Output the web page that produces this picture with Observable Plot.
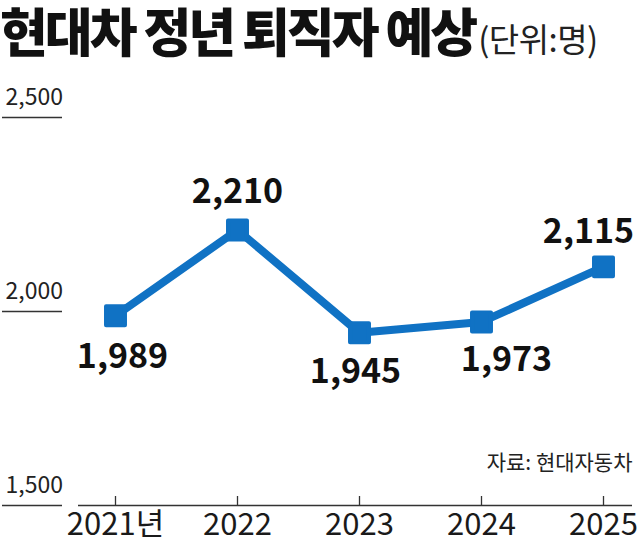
<!DOCTYPE html>
<html>
<head>
<meta charset="utf-8">
<script src="https://cdn.jsdelivr.net/npm/d3@7"></script>
<script src="https://cdn.jsdelivr.net/npm/@observablehq/plot@0.6"></script>
<style>
  html, body { margin: 0; padding: 0; background: #fff; }
  body { width: 640px; height: 547px; overflow: hidden; font-family: "Noto Sans CJK KR", "Noto Sans", sans-serif; }
  #title { height: 60px; line-height: 60px; white-space: nowrap; color: #111; padding-left: 0; }
  #title .main { font-size: 52px; font-weight: 900; letter-spacing: -3px; }
  #title .unit { font-size: 33px; font-weight: 400; letter-spacing: -0.5px; color: #222; margin-left: 3px; }
  svg { display: block; }
</style>
</head>
<body>
<div id="title"><span class="main">현대차 정년 퇴직자 예상</span><span class="unit">(단위:명)</span></div>
<div id="chart"></div>
<script>
const years = ["2021", "2022", "2023", "2024", "2025"];
const yearLabels = ["2021년", "2022", "2023", "2024", "2025"];
const retirees = [1989, 2210, 1945, 1973, 2115];
const yTicks = [1500, 2000, 2500];
const source = "자료: 현대자동차";

const data = years.map((y, i) => ({year: y, value: retirees[i]}));
// label placement (layout only): offsets from each point
const labelOffsets = [[7, 41], [0, -38], [-4, 39], [25, 38], [-15, -35]];
const fmt = d3.format(",");
const blue = "#1072c4";

const chart = Plot.plot({
  width: 640,
  height: 487,
  marginTop: 57,
  marginBottom: 42,
  marginLeft: 62,
  marginRight: 8,
  style: {fontFamily: "'Noto Sans CJK KR', 'Noto Sans', sans-serif", background: "#fff"},
  x: {type: "point", domain: years, padding: 0, insetLeft: 53, insetRight: 29},
  y: {domain: [1500, 2500]},
  marks: [
    Plot.axisY({ticks: yTicks, tickSize: 60, tickFormat: () => "", stroke: "#333", strokeWidth: 1.3, label: null}),
    Plot.axisY({ticks: yTicks, tickSize: 0, tickPadding: 0, dx: -57, dy: -20, textAnchor: "start",
      tickFormat: fmt, fontSize: 23, fill: "#222", label: null}),
    Plot.ruleY([1500], {insetLeft: 16, stroke: "#333", strokeWidth: 1.5}),
    Plot.axisX({tickSize: -9, tickFormat: () => "", stroke: "#333", strokeWidth: 1.3, label: null}),
    Plot.axisX({tickSize: 0, tickPadding: 7, tickFormat: (d) => yearLabels[years.indexOf(d)],
      fontSize: 31, fill: "#1a1a1a", label: null}),
    Plot.line(data, {x: "year", y: "value", stroke: blue, strokeWidth: 8, strokeLinejoin: "round"}),
    Plot.dot(data, {x: "year", y: "value", symbol: "square", r: 10.7, fill: blue, stroke: blue, strokeWidth: 4, strokeLinejoin: "round"}),
    ...data.map((d, i) => Plot.text([d], {x: "year", y: "value", text: (d) => fmt(d.value),
      dx: labelOffsets[i][0], dy: labelOffsets[i][1], fontSize: 34, fontWeight: 700, fill: "#111"})),
    Plot.text([source], {frameAnchor: "bottom-right", dy: -42, textAnchor: "end", lineAnchor: "middle",
      fontSize: 21, fill: "#222", text: (d) => d})
  ]
});
document.getElementById("chart").appendChild(chart);
</script>
</body>
</html>
